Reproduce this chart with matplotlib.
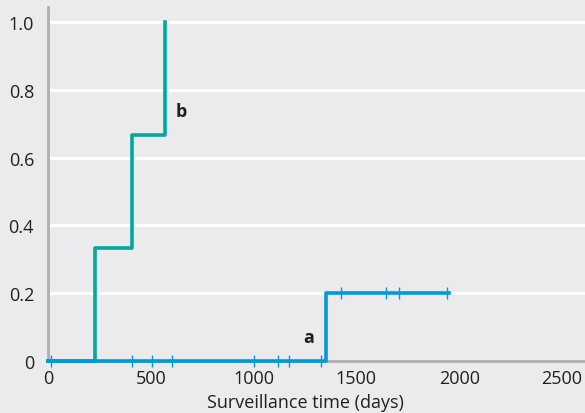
import matplotlib
matplotlib.use('Agg')
import matplotlib.pyplot as plt

plt.rcParams['font.family'] = ['Open Sans', 'DejaVu Sans']

# group b (teal): event times and cumulative incidence
b_times = [0, 229, 410, 571]
b_values = [0, 0.333, 0.667, 1.0]

# group a (blue)
a_times = [0, 1352, 1950]
a_values = [0, 0.2, 0.2]
a_censor_x = [15, 410, 505, 603, 1003, 1117, 1172, 1328, 1424, 1644, 1708, 1940]
a_censor_y = [0, 0, 0, 0, 0, 0, 0, 0, 0.2, 0.2, 0.2, 0.2]

xticks = [0, 500, 1000, 1500, 2000, 2500]
yticks = [0, 0.2, 0.4, 0.6, 0.8, 1.0]
yticklabels = ['0', '0.2', '0.4', '0.6', '0.8', '1.0']

bg = '#EBEBED'
teal = '#00A99B'
blue = '#0099DA'
txt = '#231F20'

fig = plt.figure(figsize=(5.85, 4.14), dpi=100, facecolor=bg)
ax = fig.add_axes([0.082, 0.1256, 0.918, 0.855], facecolor=bg)

for y in yticks[1:]:
    ax.axhline(y, color='white', lw=2, zorder=0)

ax.step(b_times, b_values, where='post', color=teal, lw=2.6, zorder=3,
        clip_on=False)
ax.step(a_times, a_values, where='post', color=blue, lw=2.6, zorder=4,
        clip_on=False)
ax.plot(a_censor_x, a_censor_y, ls='none', marker='|', ms=8, mew=1,
        color=blue, zorder=4, clip_on=False)

ax.text(647, 0.737, 'b', fontsize=13, fontweight='bold', color=txt,
        ha='center', va='center')
ax.text(1270, 0.07, 'a', fontsize=13, fontweight='bold', color=txt,
        ha='center', va='center')

ax.set_xlim(0, 2612)
ax.set_ylim(0, 1.0442)
ax.set_xticks(xticks)
ax.set_yticks(yticks)
ax.set_yticklabels(yticklabels)
ax.tick_params(length=0, labelsize=13, colors=txt, pad=6)
ax.tick_params(axis='y', pad=10)

for s in ['top', 'right']:
    ax.spines[s].set_visible(False)
ax.spines['left'].set_color('#AEAEB0')
ax.spines['left'].set_linewidth(2)
ax.spines['bottom'].set_color('#AEAEB0')
ax.spines['bottom'].set_linewidth(2)

ax.set_xlabel('Surveillance time (days)', fontsize=13, color=txt, labelpad=0)
ax.xaxis.set_label_coords(0.479, -0.089)

fig.savefig('out.png', dpi=100, facecolor=bg)
